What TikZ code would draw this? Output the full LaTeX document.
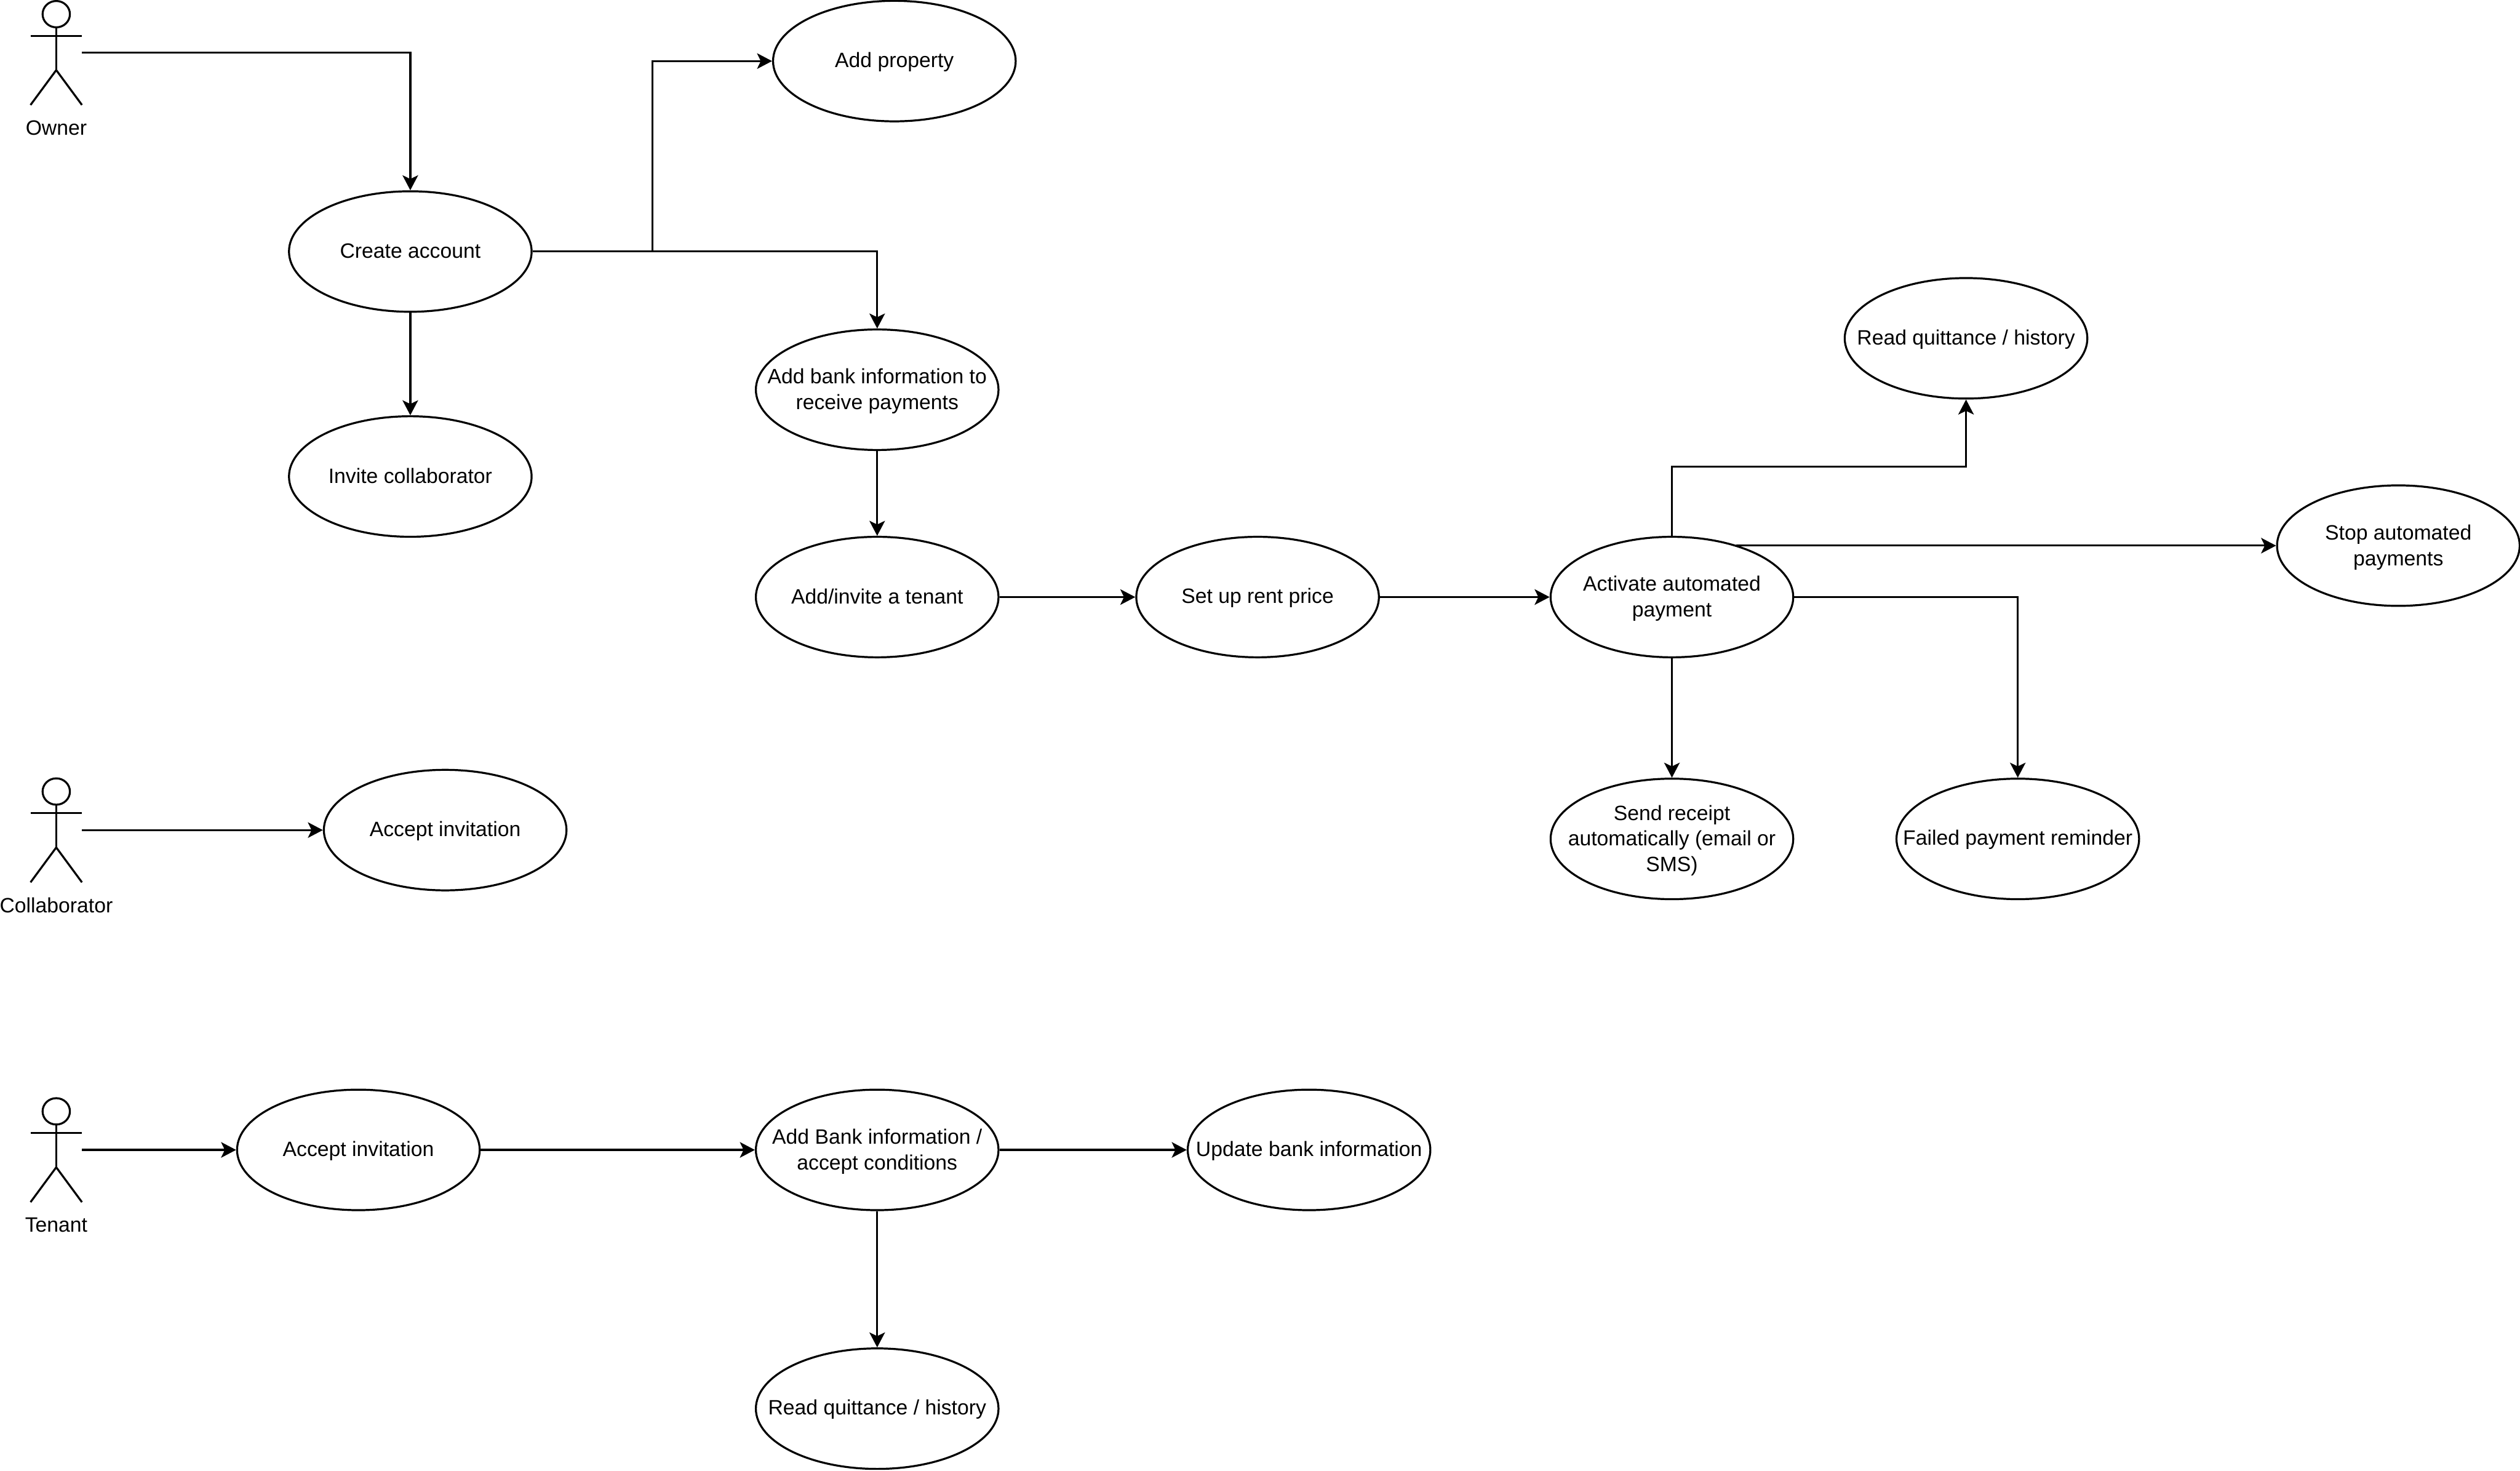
\documentclass[tikz,border=0pt]{standalone}
\usepackage{fontspec}
\setmainfont{Liberation Sans}
\usetikzlibrary{arrows.meta}
\usetikzlibrary{shapes.geometric}
\newcommand{\textstrut}{\vrule width 0pt height 6pt depth 1.2pt\relax}
\tikzset{usecase/.style={draw,ellipse,line width=.7pt,minimum width=3.02cm,minimum height=1.5cm,inner xsep=-1cm,inner ysep=-.3cm,align=center,font=\fontsize{7.35}{9.07}\selectfont,execute at begin node=\textstrut,execute at end node=\textstrut}}
\tikzset{wrapped/.style={usecase,text depth=.4pt}}
\tikzset{link/.style={line width=.7pt,-{Stealth[length=5.3pt,width=5.5pt,inset=1.3pt]}}}
\tikzset{actorbox/.style={minimum width=.64cm,minimum height=1.3cm,inner sep=0pt,outer sep=0pt}}
\tikzset{actorname/.style={inner sep=0pt,font=\fontsize{7.35}{9.07}\selectfont,execute at begin node=\textstrut}}
\newcommand{\actorfig}[4]{
    \node[actorbox] (#1) at (#2,#3) {};
    \begin{scope}[shift={(#1.north)},line width=.7pt]
        \draw (0,8.5) ellipse [x radius=8.5,y radius=8.2];
        \draw (-16,22) -- (16,22);
        \draw (0,16.7) -- (0,43.3);
        \draw (-16,65) -- (0,43.3) -- (16,65);
        \node[actorname] (#1name) at (0,79.5) {#4};
    \end{scope}
}
\begin{document}
\begin{tikzpicture}[x=0.02cm,y=-0.02cm]
        \useasboundingbox (0,0) rectangle (1568,915.2);
        % Actors
        \actorfig{owner}{35}{32.8}{Owner}
        \actorfig{collab}{35}{516.5}{Collaborator}
        \actorfig{tenant}{35}{715.5}{Tenant}
        % Owner use cases
        \node[usecase] (create) at (255.3,156.5) {Create account};
        \node[usecase] (property) at (556.5,38) {Add property};
        \node[usecase] (invite) at (255.3,296.5) {Invite collaborator};
        \node[wrapped] (bank) at (545.8,242.5) {Add bank information to\\receive payments};
        \node[usecase] (addtenant) at (545.8,371.5) {Add/invite a tenant};
        \node[usecase] (rent) at (782.5,371.5) {Set up rent price};
        \node[wrapped] (activate) at (1040.3,371.5) {Activate automated\\payment};
        \node[usecase] (history) at (1223.3,210.5) {Read quittance / history};
        \node[wrapped] (stop) at (1492.3,339.5) {Stop automated\\payments};
        \node[wrapped] (receipt) at (1040.3,522) {Send receipt\\automatically (email or\\SMS)};
        \node[usecase] (failed) at (1255.5,522) {Failed payment reminder};
        % Collaborator use case
        \node[usecase] (collabaccept) at (277,516.5) {Accept invitation};
        % Tenant use cases
        \node[usecase] (tenantaccept) at (223,715.5) {Accept invitation};
        \node[wrapped] (conditions) at (545.8,715.5) {Add Bank information /\\accept conditions};
        \node[usecase] (update) at (814.5,715.5) {Update bank information};
        \node[usecase] (tenanthistory) at (545.8,876.5) {Read quittance / history};
        % Owner links
        \draw[link] (owner.east) -| (create.north);
        \draw[link] (create.east) -- ++(74.7,0) |- (property.west);
        \draw[link] (create.east) -| (bank.north);
        \draw[link] (create.south) -- (invite.north);
        \draw[link] (bank.south) -- (addtenant.north);
        \draw[link] (addtenant.east) -- (rent.west);
        \draw[link] (rent.east) -- (activate.west);
        \draw[link] (activate.north) -- ++(0,-43) -| (history.south);
        \draw[link] (activate.39 |- stop.west) -- (stop.west);
        \draw[link] (activate.east) -| (failed.north);
        \draw[link] (activate.south) -- (receipt.north);
        % Collaborator link
        \draw[link] (collab.east) -- (collabaccept.west);
        % Tenant links
        \draw[link] (tenant.east) -- (tenantaccept.west);
        \draw[link] (tenantaccept.east) -- (conditions.west);
        \draw[link] (conditions.east) -- (update.west);
        \draw[link] (conditions.south) -- (tenanthistory.north);
\end{tikzpicture}
\end{document}
